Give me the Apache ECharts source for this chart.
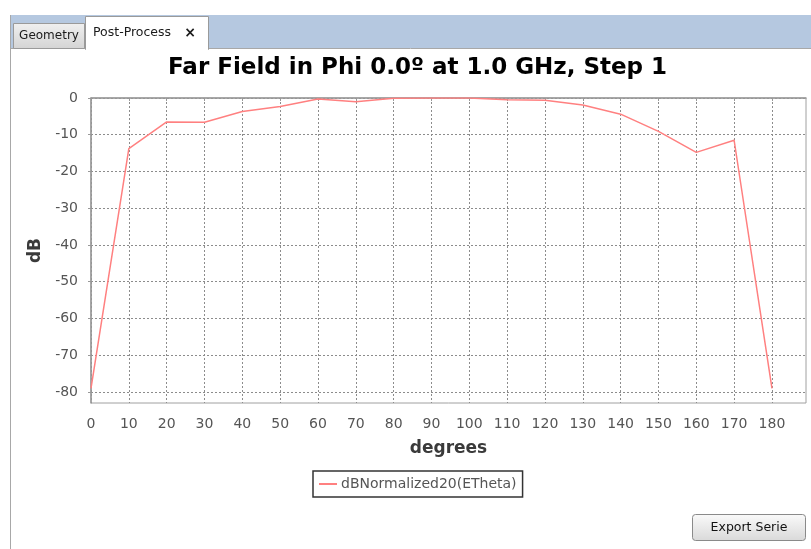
<!DOCTYPE html>
<html>
<head>
<meta charset="utf-8">
<script src="https://cdn.jsdelivr.net/npm/echarts@6/dist/echarts.min.js"></script>
<style>
html,body{margin:0;padding:0;background:#fff;}
#chart{width:811px;height:549px;}
</style>
</head>
<body>
<div id="chart"></div>
<script>
// ---- data ----
var degrees = [0, 10, 20, 30, 40, 50, 60, 70, 80, 90, 100, 110, 120, 130, 140, 150, 160, 170, 180];
var dBValues = [-79, -13.8, -6.5, -6.6, -3.7, -2.3, -0.3, -1.0, -0.1, 0, 0, -0.5, -0.6, -1.9, -4.4, -9.1, -14.8, -11.5, -79];
var xTickLabels = [0, 10, 20, 30, 40, 50, 60, 70, 80, 90, 100, 110, 120, 130, 140, 150, 160, 170, 180];
var yTickLabels = [-80, -70, -60, -50, -40, -30, -20, -10, 0];
var seriesName = 'dBNormalized20(ETheta)';
var chartTitle = 'Far Field in Phi 0.0\u00BA at 1.0 GHz, Step 1';

var points = degrees.map(function (d, i) { return [d, dBValues[i]]; });

var chart = echarts.init(document.getElementById('chart'), null, {renderer: 'canvas'});
var FONT = 'DejaVu Sans';

var option = {
  backgroundColor: '#ffffff',
  animation: false,
  title: {
    text: chartTitle,
    left: 168,
    top: 57,
    padding: 0,
    textStyle: {fontFamily: FONT, fontSize: 23, fontWeight: 'bold', color: '#000'}
  },
  legend: {
    left: 313,
    top: 471,
    orient: 'horizontal',
    padding: [6, 6, 6, 6],
    borderColor: '#333',
    borderWidth: 1.5,
    itemWidth: 18,
    itemHeight: 2,
    itemGap: 5,
    icon: 'rect',
    textStyle: {fontFamily: FONT, fontSize: 14, color: '#555', padding: [0, 0, 0, -1]},
    data: [seriesName]
  },
  grid: {
    left: 91, top: 98, width: 715, height: 305,
    show: true, borderColor: '#a0a0a0', borderWidth: 1,
    containLabel: false
  },
  xAxis: {
    type: 'value',
    min: 0, max: 189,
    offset: 6,
    name: 'degrees',
    nameLocation: 'middle',
    nameGap: 31,
    nameTextStyle: {fontFamily: FONT, fontSize: 17, fontWeight: 'bold', color: '#3a3a3a'},
    axisLine: {show: true, lineStyle: {color: '#999', width: 1.5}},
    axisTick: {show: true, inside: false, length: 3, lineStyle: {color: '#999'}, customValues: xTickLabels},
    axisLabel: {show: true, margin: 8, fontFamily: FONT, fontSize: 14, color: '#555', customValues: xTickLabels},
    splitLine: {show: true, lineStyle: {color: '#8c8c8c', type: [2, 2], width: 1}}
  },
  yAxis: {
    type: 'value',
    min: -83, max: 0,
    offset: 4,
    name: 'dB',
    nameLocation: 'middle',
    nameRotate: 90,
    nameGap: 40,
    nameTextStyle: {fontFamily: FONT, fontSize: 17, fontWeight: 'bold', color: '#3a3a3a'},
    axisLine: {show: true, lineStyle: {color: '#999', width: 1.5}},
    axisTick: {show: true, inside: false, length: 3, lineStyle: {color: '#999'}, customValues: yTickLabels},
    axisLabel: {show: true, margin: 9, fontFamily: FONT, fontSize: 14, color: '#555', customValues: yTickLabels},
    splitLine: {show: true, lineStyle: {color: '#8c8c8c', type: [2, 2], width: 1}}
  },
  series: [{
    name: seriesName,
    type: 'line',
    data: points,
    showSymbol: false,
    symbol: 'none',
    lineStyle: {color: '#ff8080', width: 1.5},
    itemStyle: {color: '#ff8080'}
  }],
  graphic: [
    {type: 'rect', z: -10, shape: {x: 10, y: 15, width: 801, height: 33}, style: {fill: '#b5c8e0'}, silent: true},
    {type: 'line', z: -9, shape: {x1: 10.5, y1: 15, x2: 10.5, y2: 549}, style: {stroke: '#a8a8a8', lineWidth: 1}, silent: true},
    {type: 'line', z: -9, shape: {x1: 10, y1: 48.5, x2: 811, y2: 48.5}, style: {stroke: '#a8a8a8', lineWidth: 1}, silent: true},
    {type: 'rect', z: -8, shape: {x: 13.5, y: 23.5, width: 71, height: 25},
      style: {fill: new echarts.graphic.LinearGradient(0, 0, 0, 1, [{offset: 0, color: '#f0f0f0'}, {offset: 1, color: '#d4d4d4'}]), stroke: '#9a9a9a', lineWidth: 1}, silent: true},
    {type: 'text', z: -7, style: {x: 49, y: 36, text: 'Geometry', fontFamily: FONT, fontSize: 12, fill: '#1a1a1a', align: 'center', verticalAlign: 'middle'}, silent: true},
    {type: 'rect', z: -8, shape: {x: 85.5, y: 16.5, width: 123, height: 33}, style: {fill: '#ffffff', stroke: '#9a9a9a', lineWidth: 1}, silent: true},
    {type: 'rect', z: -7, shape: {x: 86, y: 47, width: 122, height: 4}, style: {fill: '#ffffff'}, silent: true},
    {type: 'text', z: -6, style: {x: 93, y: 32.5, text: 'Post-Process', fontFamily: FONT, fontSize: 12.5, fill: '#1a1a1a', align: 'left', verticalAlign: 'middle'}, silent: true},
    {type: 'text', z: -6, style: {x: 190, y: 33, text: '\u00D7', fontFamily: FONT, fontSize: 14, fontWeight: 'bold', fill: '#1a1a1a', align: 'center', verticalAlign: 'middle'}, silent: true},
    {type: 'rect', z: -8, shape: {x: 692.5, y: 514.5, width: 113, height: 26, r: 3},
      style: {fill: new echarts.graphic.LinearGradient(0, 0, 0, 1, [{offset: 0, color: '#fafafa'}, {offset: 1, color: '#d9d9d9'}]), stroke: '#8a8a8a', lineWidth: 1}, silent: true},
    {type: 'text', z: -6, style: {x: 749, y: 528, text: 'Export Serie', fontFamily: FONT, fontSize: 12.5, fill: '#111', align: 'center', verticalAlign: 'middle'}, silent: true}
  ]
};
chart.setOption(option);
</script>
</body>
</html>
